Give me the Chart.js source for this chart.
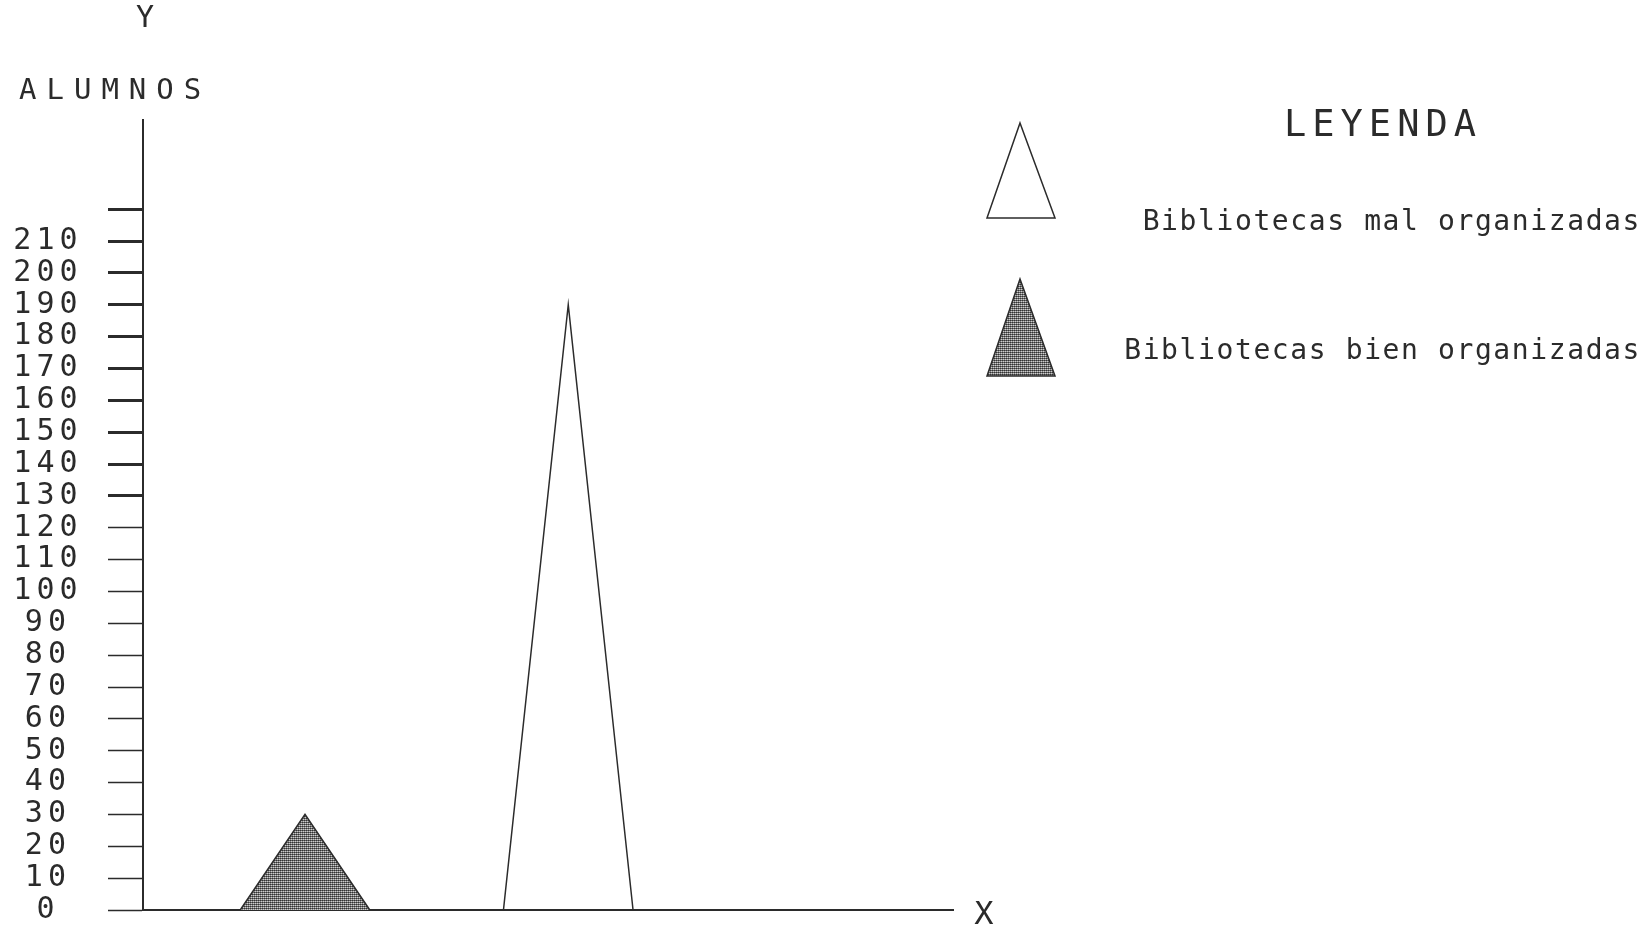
<!DOCTYPE html>
<html>
<head>
<meta charset="utf-8">
<script src="https://cdn.jsdelivr.net/npm/chart.js@4.4.1/dist/chart.umd.min.js"></script>
<style>
  html, body { margin: 0; padding: 0; background: #fff; }
</style>
</head>
<body>
<canvas id="myChart" width="1646" height="932"></canvas>
<script>
// Values
const categories = ['Bibliotecas mal organizadas', 'Bibliotecas bien organizadas'];
const peakValues = [190, 30];      // alumnos at the apex of each triangle
const centerX = [52.5, 20];        // where each triangle sits on the X axis (0-100)
const yTickLabels = ['0', '10', '20', '30', '40', '50', '60', '70', '80', '90', '100',
  '110', '120', '130', '140', '150', '160', '170', '180', '190', '200', '210'];
const yTitle = 'ALUMNOS';
const legendTitle = 'LEYENDA';

const HALF_BASE = 8;
const ink = '#2b2b2b';
const mono = '"DejaVu Sans Mono", "Liberation Mono", monospace';

// grey dot texture like the printer fill
function dotPattern() {
  const c = document.createElement('canvas');
  c.width = 2; c.height = 2;
  const g = c.getContext('2d');
  g.fillStyle = '#333'; g.fillRect(0, 0, 1, 1);
  g.fillStyle = '#666'; g.fillRect(1, 0, 1, 1);
  g.fillStyle = '#888'; g.fillRect(0, 1, 1, 1);
  g.fillStyle = '#ccc'; g.fillRect(1, 1, 1, 1);
  return g.createPattern(c, 'repeat');
}
const fillPattern = dotPattern();

// each triangle: base corners on 0, apex at the value
function triangle(i) {
  return [
    { x: centerX[i] - HALF_BASE, y: 0 },
    { x: centerX[i], y: peakValues[i] },
    { x: centerX[i] + HALF_BASE, y: 0 }
  ];
}

function spacedText(ctx, text, x, y, size, spacing, align) {
  ctx.save();
  ctx.font = size + 'px ' + mono;
  ctx.letterSpacing = spacing + 'px';
  ctx.fillStyle = ink;
  ctx.textAlign = align;
  ctx.textBaseline = 'middle';
  ctx.fillText(text, x, y);
  ctx.restore();
}

function legendTriangle(ctx, top, bottom, filled) {
  ctx.save();
  ctx.beginPath();
  ctx.moveTo(1020, top);
  ctx.lineTo(1055, bottom);
  ctx.lineTo(987, bottom);
  ctx.closePath();
  if (filled) { ctx.fillStyle = fillPattern; ctx.fill(); }
  ctx.strokeStyle = ink;
  ctx.lineWidth = 1.5;
  ctx.stroke();
  ctx.restore();
}

const decorations = {
  id: 'decorations',
  beforeDraw(chart) {
    // wider spacing for the tick digits, as on the printout
    chart.ctx.letterSpacing = '5px';
  },
  afterDraw(chart) {
    const ctx = chart.ctx;
    ctx.letterSpacing = '0px';
    spacedText(ctx, 'Y', 145, 19, 30, 0, 'center');
    spacedText(ctx, yTitle, 19, 91, 29, 10, 'left');
    spacedText(ctx, 'X', 984, 916, 32, 0, 'center');

    spacedText(ctx, legendTitle, 1383, 126, 37, 6, 'center');
    legendTriangle(ctx, 123, 218, false);
    spacedText(ctx, categories[0], 1641, 223, 28, 1.6, 'right');
    legendTriangle(ctx, 279, 376, true);
    spacedText(ctx, categories[1], 1641, 352, 28, 1.6, 'right');
  }
};

const ctx = document.getElementById('myChart').getContext('2d');

new Chart(ctx, {
  type: 'line',
  data: {
    datasets: [
      {
        label: categories[1],
        data: triangle(1),
        borderColor: ink,
        borderWidth: 1.5,
        backgroundColor: fillPattern,
        fill: 'origin',
        tension: 0,
        pointRadius: 0,
        clip: false
      },
      {
        label: categories[0],
        data: triangle(0),
        borderColor: ink,
        borderWidth: 1.5,
        fill: false,
        tension: 0,
        pointRadius: 0,
        clip: false
      }
    ]
  },
  options: {
    responsive: false,
    animation: false,
    devicePixelRatio: 1,
    layout: { padding: { left: 0, top: 120, right: 693, bottom: 22 } },
    plugins: { legend: { display: false }, tooltip: { enabled: false } },
    scales: {
      x: {
        type: 'linear',
        min: 0,
        max: 100,
        ticks: { display: false },
        grid: { display: false },
        border: { display: true, color: ink, width: 2 },
        afterFit: s => { s.height = 0; s.paddingLeft = 0; s.paddingRight = 0; }
      },
      y: {
        type: 'linear',
        min: 0,
        max: 248,
        afterBuildTicks: s => { s.ticks = s.ticks.filter(t => t.value <= 220); },
        afterFit: s => { s.width = 143; s.paddingTop = 0; s.paddingBottom = 0; },
        ticks: {
          stepSize: 10,
          autoSkip: false,
          crossAlign: 'center',
          padding: 33,
          color: ink,
          font: { family: mono, size: 30 },
          callback: (value, index) => yTickLabels[index] ?? ''
        },
        grid: {
          drawOnChartArea: false,
          tickLength: 35,
          tickColor: ink,
          tickWidth: c => (c.tick && c.tick.value >= 130 ? 3 : 1.5)
        },
        border: { display: true, color: ink, width: 2 }
      }
    }
  },
  plugins: [decorations]
});
</script>
</body>
</html>
